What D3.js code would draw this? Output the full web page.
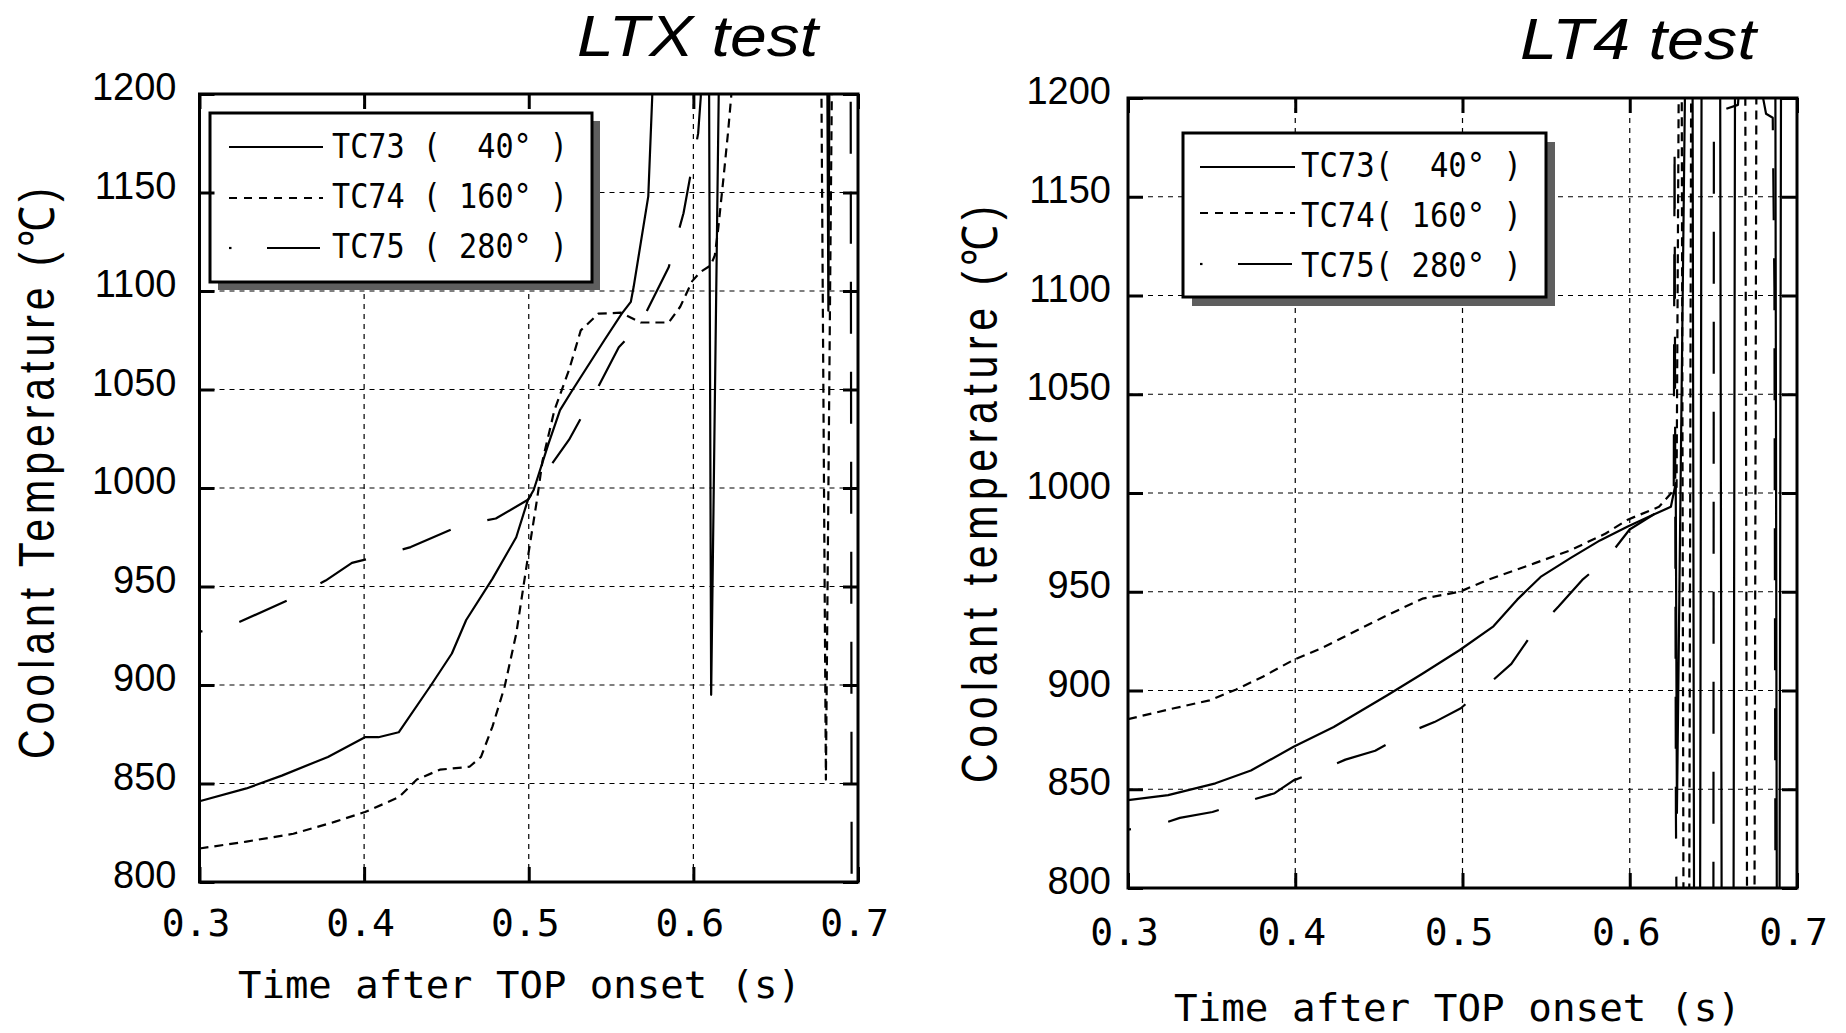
<!DOCTYPE html>
<html>
<head>
<meta charset="utf-8">
<script src="https://cdn.jsdelivr.net/npm/d3@7"></script>
<style>
  html, body { margin: 0; padding: 0; background: #fff; }
  svg { display: block; }
  text { fill: #000; }
  .pre { white-space: pre; }
</style>
</head>
<body>
<script>
// ---- Data: [time after TOP onset (s), coolant temperature (°C)] ----
// Values above 1200 / below 800 are off-scale excursions (clipped by the frame).

// LTX test
const ltxTC73 = [
  [0.300, 841], [0.3285, 847.5], [0.350, 854], [0.378, 863.5], [0.4005, 873.5],
  [0.4087, 873.5], [0.421, 876], [0.4407, 900], [0.4533, 916], [0.462, 933],
  [0.478, 954], [0.4924, 975], [0.4995, 994], [0.503, 999], [0.512, 1022.5],
  [0.519, 1039.5], [0.526, 1049], [0.5459, 1075], [0.5565, 1088.5], [0.562, 1094.5],
  [0.5637, 1102], [0.5726, 1148], [0.575, 1198.5], [0.5755, 1240], [0.6094, 1240],
  [0.6108, 895], [0.6160, 1240], [0.6812, 1240], [0.6820, 1090], [0.6828, 1240],
  [0.700, 1240]
];
const ltxTC74 = [
  [0.300, 817], [0.3285, 820.5], [0.357, 824.5], [0.382, 830.5], [0.4005, 835.5],
  [0.421, 843], [0.432, 852], [0.446, 857], [0.464, 858.5], [0.471, 863.5],
  [0.478, 879], [0.4853, 899], [0.4924, 926], [0.4995, 965], [0.505, 994],
  [0.5084, 1014], [0.5156, 1039.5], [0.5245, 1060], [0.5316, 1080], [0.5423, 1088.5],
  [0.556, 1089], [0.568, 1084], [0.585, 1084], [0.592, 1092], [0.5993, 1105],
  [0.604, 1109.5], [0.6105, 1113], [0.613, 1118], [0.615, 1131], [0.618, 1155],
  [0.621, 1180], [0.623, 1199], [0.6235, 1240], [0.6775, 1240], [0.6805, 852],
  [0.6845, 1240], [0.700, 1240]
];
const ltxTC75 = [
  [0.300, 927], [0.323, 931.5], [0.3535, 943], [0.3766, 953], [0.3926, 962],
  [0.407, 965], [0.4283, 970], [0.4586, 981], [0.480, 984.5], [0.4995, 994],
  [0.510, 1007.5], [0.5245, 1024.5], [0.5423, 1051.5], [0.5547, 1071.5], [0.5673, 1082.5],
  [0.585, 1112], [0.594, 1139.5], [0.6029, 1180], [0.6045, 1198.5], [0.605, 1240],
  [0.6955, 1240], [0.6962, 760], [0.700, 760]
];

// LT4 test
const lt4TC73 = [
  [0.300, 844.5], [0.324, 847], [0.3523, 853], [0.3735, 859.5], [0.399, 871.5],
  [0.423, 881.5], [0.4548, 897.5], [0.476, 908.5], [0.4984, 920.5], [0.5185, 932.5],
  [0.5327, 946], [0.5467, 957.5], [0.5645, 967], [0.5822, 976], [0.5988, 983],
  [0.614, 989], [0.6246, 993], [0.6275, 1005], [0.6282, 838], [0.6335, 1240],
  [0.6375, 1240], [0.6385, 760], [0.6420, 760], [0.6430, 1240], [0.6540, 1240],
  [0.6550, 760], [0.6620, 760], [0.6630, 1240], [0.6870, 1240], [0.6880, 760],
  [0.6895, 760], [0.6905, 1240], [0.700, 1240]
];
const lt4TC74 = [
  [0.300, 885.5], [0.3275, 891], [0.3487, 895], [0.3647, 900.5], [0.3806, 907],
  [0.399, 915.5], [0.416, 921.5], [0.437, 930.5], [0.4548, 938], [0.476, 946.5],
  [0.4984, 950], [0.515, 956], [0.5433, 964.5], [0.5645, 971], [0.5856, 979.5],
  [0.5988, 986.5], [0.6175, 993], [0.628, 1003], [0.6295, 1240], [0.6310, 1240],
  [0.6322, 760], [0.6355, 760], [0.6368, 1240], [0.6690, 1240], [0.6702, 760],
  [0.6745, 760], [0.6758, 1240], [0.700, 1240]
];
const lt4TC75 = [
  [0.300, 829.5], [0.322, 833], [0.331, 835.5], [0.3505, 838.5], [0.370, 843.5],
  [0.3877, 848], [0.399, 854.5], [0.4177, 860.5], [0.430, 865], [0.4478, 869.5],
  [0.4672, 878.5], [0.4832, 884], [0.499, 891], [0.5186, 905.5], [0.5292, 913.5],
  [0.5398, 926.5], [0.5574, 942.5], [0.5716, 956], [0.5856, 966], [0.5999, 981.5],
  [0.614, 989], [0.6263, 996], [0.6268, 1178], [0.6276, 838], [0.6282, 760],
  [0.6500, 760], [0.6503, 1186], [0.6557, 1194], [0.6647, 1196.5], [0.6680, 1240],
  [0.6790, 1240], [0.6795, 1201], [0.6815, 1192], [0.6855, 1190], [0.6865, 1104],
  [0.6872, 760], [0.700, 760]
];

// Axes and labels
const xTicks = [0.3, 0.4, 0.5, 0.6, 0.7];
const xTickLabels = ["0.3", "0.4", "0.5", "0.6", "0.7"];
const yTicks = [800, 850, 900, 950, 1000, 1050, 1100, 1150, 1200];
const gridX = [0.4, 0.5, 0.6];
const gridY = [850, 900, 950, 1000, 1050, 1100, 1150];
const panelTitles = ["LTX test", "LT4 test"];
const yTitles = ["Coolant Temperature (\u2103)", "Coolant temperature (\u2103)"];
const xTitle = "Time after TOP onset (s)";
const ltxLegend = ["TC73 (  40\u00b0 )", "TC74 ( 160\u00b0 )", "TC75 ( 280\u00b0 )"];
const lt4Legend = ["TC73(  40\u00b0 )", "TC74( 160\u00b0 )", "TC75( 280\u00b0 )"];

const panelSeries = [[ltxTC73, ltxTC74, ltxTC75], [lt4TC73, lt4TC74, lt4TC75]];
const panelLegends = [ltxLegend, lt4Legend];

// ---- Layout ----
const W = 1846, H = 1033;
const layouts = [
  { left: 199.5, right: 858, top: 94, bottom: 882,
    title: { x: 577, y: 55.5, len: 241 },
    yTitle: { x: 54, y: 759, len: 571 },
    xTitle: { x: 238, y: 998, len: 563 },
    yLabelPad: 23, xLabelBase: 54,
    legend: { x: 210, y: 113, w: 382, h: 169, shadow: 8, sx0: 229, sx1: 323,
              rows: [147, 198, 248], textX: 332, base: [158, 208, 258], textLen: 236 } },
  { left: 1128, right: 1797, top: 98, bottom: 888,
    title: { x: 1520, y: 59, len: 236 },
    yTitle: { x: 997, y: 783, len: 577 },
    xTitle: { x: 1174, y: 1021, len: 567 },
    yLabelPad: 17, xLabelBase: 57,
    legend: { x: 1183, y: 133, w: 363, h: 164, shadow: 9, sx0: 1200, sx1: 1295,
              rows: [167, 213, 264], textX: 1301, base: [177, 227, 277], textLen: 221 } }
];

// line styles: solid, short dash, long dash (dash-dot in legend)
const styles = [
  { dash: null, offset: 0 },
  { dash: "9,6", offset: 0 },
  { dash: "52,38", offset: 49 }
];

const MONO = "'DejaVu Sans Mono', 'Liberation Mono', monospace";
const SANS = "'Liberation Sans', Arial, sans-serif";

const svg = d3.select("body").append("svg")
  .attr("width", W).attr("height", H)
  .attr("viewBox", `0 0 ${W} ${H}`);
svg.append("rect").attr("width", W).attr("height", H).attr("fill", "#fff");

layouts.forEach((L, i) => {
  const x = d3.scaleLinear().domain([0.3, 0.7]).range([L.left, L.right]);
  const y = d3.scaleLinear().domain([800, 1200]).range([L.bottom, L.top]);
  const g = svg.append("g");

  const clipId = "plotclip" + i;
  svg.append("clipPath").attr("id", clipId)
    .append("rect")
    .attr("x", L.left).attr("y", L.top)
    .attr("width", L.right - L.left).attr("height", L.bottom - L.top);

  // grid
  const grid = g.append("g").attr("stroke", "#000").attr("stroke-width", 1.2)
    .attr("stroke-dasharray", "5,5");
  grid.selectAll("line.gx").data(gridX).join("line")
    .attr("x1", d => x(d)).attr("x2", d => x(d))
    .attr("y1", L.top).attr("y2", L.bottom);
  grid.selectAll("line.gy").data(gridY).join("line")
    .attr("x1", L.left).attr("x2", L.right)
    .attr("y1", d => y(d)).attr("y2", d => y(d));

  // series
  const line = d3.line().x(d => x(d[0])).y(d => y(d[1]));
  const lines = g.append("g").attr("clip-path", `url(#${clipId})`);
  panelSeries[i].forEach((s, k) => {
    const p = lines.append("path")
      .attr("d", line(s))
      .attr("fill", "none")
      .attr("stroke", "#000")
      .attr("stroke-width", 2.2)
      .attr("stroke-linejoin", "round");
    if (styles[k].dash) {
      p.attr("stroke-dasharray", styles[k].dash)
       .attr("stroke-dashoffset", styles[k].offset);
    }
  });

  // legend
  const lg = L.legend;
  const leg = g.append("g");
  leg.append("rect")
    .attr("x", lg.x + lg.shadow).attr("y", lg.y + lg.shadow)
    .attr("width", lg.w).attr("height", lg.h)
    .attr("fill", "#5e5e5e");
  leg.append("rect")
    .attr("x", lg.x).attr("y", lg.y)
    .attr("width", lg.w).attr("height", lg.h)
    .attr("fill", "#fff").attr("stroke", "#000").attr("stroke-width", 3);
  panelLegends[i].forEach((label, k) => {
    const yy = lg.rows[k];
    if (k === 2) {
      leg.append("line")
        .attr("x1", lg.sx0).attr("x2", lg.sx0 + 2.5)
        .attr("y1", yy).attr("y2", yy)
        .attr("stroke", "#000").attr("stroke-width", 2.2);
      leg.append("line")
        .attr("x1", lg.sx0 + 38).attr("x2", lg.sx1 - 3)
        .attr("y1", yy).attr("y2", yy)
        .attr("stroke", "#000").attr("stroke-width", 2.2);
    } else {
      const l = leg.append("line")
        .attr("x1", lg.sx0).attr("x2", lg.sx1)
        .attr("y1", yy).attr("y2", yy)
        .attr("stroke", "#000").attr("stroke-width", 2.2);
      if (k === 1) l.attr("stroke-dasharray", "8,7");
    }
    leg.append("text")
      .attr("class", "pre")
      .attr("x", lg.textX).attr("y", lg.base[k])
      .attr("font-family", MONO).attr("font-size", 33)
      .attr("textLength", lg.textLen).attr("lengthAdjust", "spacingAndGlyphs")
      .text(label);
  });

  // axes: inward ticks on all four sides
  const tick = 15;
  const ax = g.append("g").attr("transform", `translate(0,${L.bottom})`)
    .call(d3.axisBottom(x).tickValues(xTicks).tickSizeInner(-tick).tickSizeOuter(0)
      .tickFormat((d, j) => xTickLabels[j]));
  const axTop = g.append("g").attr("transform", `translate(0,${L.top})`)
    .call(d3.axisTop(x).tickValues(xTicks).tickSizeInner(-tick).tickSizeOuter(0).tickFormat(""));
  const ay = g.append("g").attr("transform", `translate(${L.left},0)`)
    .call(d3.axisLeft(y).tickValues(yTicks).tickSizeInner(-tick).tickSizeOuter(0)
      .tickPadding(L.yLabelPad).tickFormat(d3.format("d")));
  const ayR = g.append("g").attr("transform", `translate(${L.right},0)`)
    .call(d3.axisRight(y).tickValues(yTicks).tickSizeInner(-tick).tickSizeOuter(0).tickFormat(""));

  [ax, axTop, ay, ayR].forEach(a => {
    a.select(".domain").remove();
    a.selectAll(".tick line").attr("stroke", "#000").attr("stroke-width", 3);
  });
  ax.selectAll(".tick text")
    .attr("y", L.xLabelBase).attr("dy", 0).attr("dx", -4)
    .attr("font-family", MONO).attr("font-size", 38).attr("fill", "#000");
  ay.selectAll(".tick text")
    .attr("dy", "0.36em").attr("y", -8)
    .attr("font-family", SANS).attr("font-size", 38).attr("fill", "#000");

  // frame
  g.append("rect")
    .attr("x", L.left).attr("y", L.top)
    .attr("width", L.right - L.left).attr("height", L.bottom - L.top)
    .attr("fill", "none").attr("stroke", "#000").attr("stroke-width", 3);

  // titles
  svg.append("text")
    .attr("x", L.title.x).attr("y", L.title.y)
    .attr("font-family", SANS).attr("font-style", "italic").attr("font-size", 58)
    .attr("textLength", L.title.len).attr("lengthAdjust", "spacingAndGlyphs")
    .text(panelTitles[i]);

  svg.append("text")
    .attr("class", "pre")
    .attr("x", L.xTitle.x).attr("y", L.xTitle.y)
    .attr("font-family", MONO).attr("font-size", 37)
    .attr("textLength", L.xTitle.len).attr("lengthAdjust", "spacingAndGlyphs")
    .text(xTitle);

  // rotated y title: narrower glyphs stretched in height, spread along the axis
  svg.append("text")
    .attr("transform", `translate(${L.yTitle.x},${L.yTitle.y}) rotate(-90) scale(1,1.2)`)
    .attr("x", 0).attr("y", 0)
    .attr("font-family", SANS).attr("font-size", 41)
    .attr("textLength", L.yTitle.len).attr("lengthAdjust", "spacing")
    .text(yTitles[i]);
});
</script>
</body>
</html>
